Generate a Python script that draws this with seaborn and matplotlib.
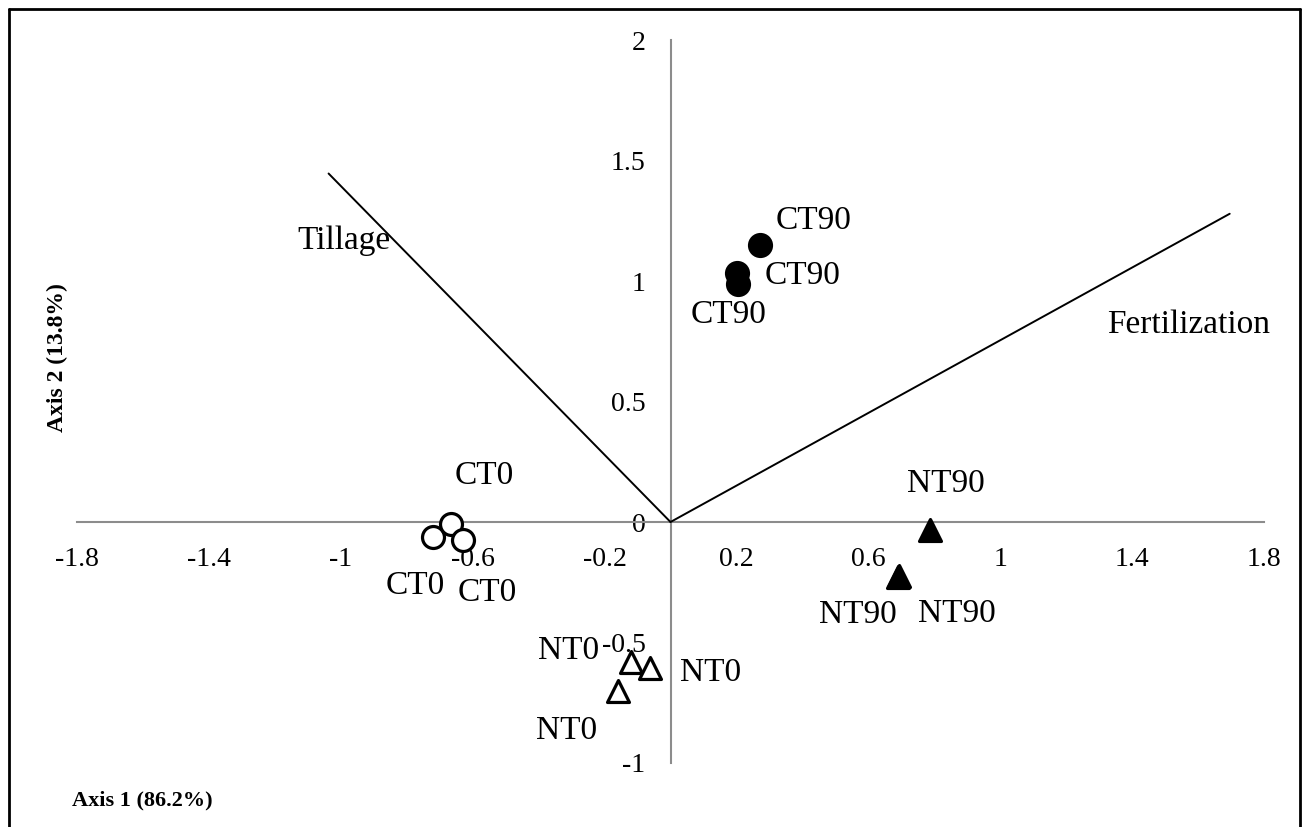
import matplotlib
matplotlib.use("Agg")
import matplotlib.pyplot as plt
import numpy as np
import pandas as pd
import seaborn as sns
from matplotlib.lines import Line2D

# Data (ordination scores)
ct0_x = [-0.719, -0.667, -0.628]
ct0_y = [-0.062, -0.008, -0.075]
nt0_x = [-0.121, -0.061, -0.158]
nt0_y = [-0.579, -0.604, -0.700]
ct90_x = [0.270, 0.203, 0.206]
ct90_y = [1.150, 1.033, 0.988]
nt90_x = [0.786, 0.689, 0.692]
nt90_y = [-0.033, -0.229, -0.226]

# label offsets (points) for each sample label
ct0_off = [(-13, -35), (24, 35), (17, -38)]
nt0_off = [(-45, 8), (43, -4), (-37, -29)]
ct90_off = [(39, 17), (47, -2), (-7, -22)]
nt90_off = [(12, 33), (-29, -27), (42, -27)]

# biplot vectors
vec_names = ["Tillage", "Fertilization"]
vec_x = [-1.037, 1.696]
vec_y = [1.446, 1.279]
vec_label_x = [-0.99, 1.57]
vec_label_y = [1.167, 0.82]

xticks = [-1.8, -1.4, -1, -0.6, -0.2, 0.2, 0.6, 1, 1.4, 1.8]
yticks = [-1, -0.5, 0, 0.5, 1, 1.5, 2]

df = pd.DataFrame({
    "x": ct0_x + nt0_x + ct90_x + nt90_x,
    "y": ct0_y + nt0_y + ct90_y + nt90_y,
    "group": ["CT0"] * 3 + ["NT0"] * 3 + ["CT90"] * 3 + ["NT90"] * 3,
})
offsets = ct0_off + nt0_off + ct90_off + nt90_off

sns.set_style("white")
plt.rcParams["font.family"] = ["Liberation Serif", "DejaVu Serif"]
plt.rcParams["text.color"] = "black"

fig = plt.figure(figsize=(13.02, 8.27), dpi=100)
ax = fig.add_axes([77 / 1302, 1 - 763 / 827, (1264 - 77) / 1302, (763 - 40) / 827])

styles = {
    "CT0": dict(marker="o", facecolor="white"),
    "NT0": dict(marker="^", facecolor="white"),
    "CT90": dict(marker="o", facecolor="black"),
    "NT90": dict(marker="^", facecolor="black"),
}
for g, st in styles.items():
    sub = df[df["group"] == g]
    sns.scatterplot(data=sub, x="x", y="y", ax=ax, marker=st["marker"], s=250,
                    color=st["facecolor"], edgecolor="black", linewidth=2.3, zorder=4)

for (x, y, g), off in zip(df[["x", "y", "group"]].itertuples(index=False), offsets):
    ax.annotate(g, (x, y), xytext=off, textcoords="offset points",
                ha="center", va="center", fontsize=24, color="black", zorder=5)

for vx, vy, lx, ly, name in zip(vec_x, vec_y, vec_label_x, vec_label_y, vec_names):
    ax.plot([0, vx], [0, vy], color="black", lw=1.4, zorder=3)
    ax.text(lx, ly, name, ha="center", va="center", fontsize=24, color="black")

ax.set_xlim(-1.8, 1.8)
ax.set_ylim(-1, 2)
ax.spines["left"].set_position(("data", 0))
ax.spines["bottom"].set_position(("data", 0))
ax.spines["top"].set_visible(False)
ax.spines["right"].set_visible(False)
for s in ["left", "bottom"]:
    ax.spines[s].set_color("#8c8c8c")
    ax.spines[s].set_linewidth(1.5)
ax.set_xticks(xticks, [f"{t:g}" for t in xticks])
ax.set_yticks(yticks, [f"{t:g}" for t in yticks])
ax.tick_params(axis="both", direction="out", length=6, width=1.5, color="#8c8c8c",
               labelsize=20, labelcolor="black")
ax.tick_params(axis="x", pad=12)
ax.tick_params(axis="y", pad=12)
ax.set_xlabel("")
ax.set_ylabel("")
ax.patch.set_alpha(0)

fig.text(72 / 1302, 1 - 800 / 827, "Axis 1 (86.2%)", ha="left", va="center",
         fontsize=16, fontweight="bold", color="black")
fig.text(57 / 1302, 1 - 358 / 827, "Axis 2 (13.8%)", ha="center", va="center",
         fontsize=17, fontweight="bold", rotation=90, color="black")

# outer frame (bottom edge is cropped off in the reference)
fig.add_artist(Line2D([9 / 1302, 9 / 1302], [0, 1 - 9 / 827], color="black", lw=2))
fig.add_artist(Line2D([9 / 1302, 1300 / 1302], [1 - 9 / 827, 1 - 9 / 827], color="black", lw=2))
fig.add_artist(Line2D([1300 / 1302, 1300 / 1302], [0, 1 - 9 / 827], color="black", lw=2))

fig.savefig("out.png", dpi=100)
